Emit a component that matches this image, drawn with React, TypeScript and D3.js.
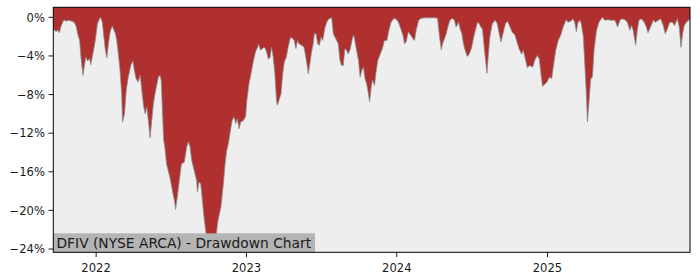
import React from "react";
import * as d3 from "d3";

const dates: string[] = [
  "2021-09-19","2021-09-26","2021-09-29","2021-10-04","2021-10-07","2021-10-12","2021-10-15","2021-10-20","2021-10-26","2021-11-03",
  "2021-11-09","2021-11-14","2021-11-17","2021-11-22","2021-11-25","2021-11-30","2021-12-03","2021-12-07","2021-12-11","2021-12-16",
  "2021-12-19","2021-12-24","2021-12-30",
  "2022-01-04","2022-01-09","2022-01-12","2022-01-16","2022-01-19","2022-01-23","2022-01-27","2022-01-31","2022-02-04","2022-02-09",
  "2022-02-12","2022-02-17","2022-02-20","2022-02-24","2022-02-28","2022-03-04","2022-03-06","2022-03-11","2022-03-15","2022-03-20",
  "2022-03-26","2022-03-31","2022-04-03","2022-04-08","2022-04-13","2022-04-18","2022-04-21","2022-04-26","2022-04-30","2022-05-04",
  "2022-05-08","2022-05-12","2022-05-16","2022-05-20","2022-05-24","2022-05-28","2022-06-01","2022-06-05","2022-06-08","2022-06-11",
  "2022-06-14","2022-06-17","2022-06-21","2022-06-29","2022-07-05","2022-07-10","2022-07-13","2022-07-17","2022-07-21","2022-07-27",
  "2022-08-03","2022-08-09","2022-08-13","2022-08-17","2022-08-21","2022-08-27","2022-09-02","2022-09-04","2022-09-08","2022-09-12",
  "2022-09-16","2022-09-20","2022-09-25","2022-09-28","2022-10-02","2022-10-06","2022-10-10","2022-10-15","2022-10-20","2022-10-24",
  "2022-10-31","2022-11-06","2022-11-10","2022-11-14","2022-11-18","2022-11-22","2022-11-27","2022-12-02","2022-12-06","2022-12-10",
  "2022-12-14","2022-12-18","2022-12-24","2022-12-30",
  "2023-01-02","2023-01-07","2023-01-12","2023-01-15","2023-01-20","2023-01-23","2023-01-28","2023-01-31","2023-02-04","2023-02-08",
  "2023-02-13","2023-02-16","2023-02-19","2023-02-23","2023-02-27","2023-03-03","2023-03-07","2023-03-11","2023-03-15","2023-03-17",
  "2023-03-22","2023-03-26","2023-03-30","2023-04-03","2023-04-08","2023-04-12","2023-04-18","2023-04-23","2023-04-27","2023-05-01",
  "2023-05-05","2023-05-09","2023-05-15","2023-05-21","2023-05-25","2023-05-29","2023-05-31","2023-06-04","2023-06-08","2023-06-12",
  "2023-06-15","2023-06-19","2023-06-23","2023-06-27","2023-07-01","2023-07-05","2023-07-11","2023-07-15","2023-07-20","2023-07-27",
  "2023-07-31","2023-08-04","2023-08-08","2023-08-12","2023-08-16","2023-08-20","2023-08-24","2023-08-28","2023-09-01","2023-09-05",
  "2023-09-10","2023-09-15","2023-09-19","2023-09-24","2023-09-30","2023-10-04","2023-10-08","2023-10-12","2023-10-16","2023-10-20",
  "2023-10-23","2023-10-27","2023-10-31","2023-11-03","2023-11-08","2023-11-11","2023-11-16","2023-11-22","2023-11-27","2023-12-02",
  "2023-12-08","2023-12-12","2023-12-18","2023-12-24","2023-12-30",
  "2024-01-05","2024-01-11","2024-01-16","2024-01-20","2024-01-24","2024-01-29","2024-02-04","2024-02-09","2024-02-13","2024-02-17",
  "2024-02-23","2024-02-29","2024-03-10","2024-03-22","2024-04-03","2024-04-09","2024-04-13","2024-04-18","2024-04-21","2024-04-26",
  "2024-04-30","2024-05-04","2024-05-09","2024-05-15","2024-05-20","2024-05-24","2024-05-30","2024-06-03","2024-06-07","2024-06-11",
  "2024-06-15","2024-06-20","2024-06-25","2024-07-01","2024-07-05","2024-07-09","2024-07-15","2024-07-19","2024-07-23","2024-07-27",
  "2024-08-01","2024-08-05","2024-08-07","2024-08-10","2024-08-14","2024-08-20","2024-08-27","2024-09-01","2024-09-06","2024-09-10",
  "2024-09-16","2024-09-21","2024-09-26","2024-10-02","2024-10-07","2024-10-14","2024-10-19","2024-10-24","2024-10-30","2024-11-03",
  "2024-11-07","2024-11-13","2024-11-19","2024-11-26","2024-12-01","2024-12-07","2024-12-12","2024-12-16","2024-12-20","2024-12-26",
  "2024-12-31",
  "2025-01-05","2025-01-11","2025-01-15","2025-01-21","2025-01-27","2025-02-02","2025-02-08","2025-02-15","2025-02-20","2025-02-26",
  "2025-03-04","2025-03-08","2025-03-12","2025-03-16","2025-03-21","2025-03-24","2025-03-29","2025-04-02","2025-04-06","2025-04-08",
  "2025-04-12","2025-04-16","2025-04-20","2025-04-24","2025-04-30","2025-05-06","2025-05-14","2025-05-20","2025-05-28","2025-06-05",
  "2025-06-14","2025-06-20","2025-06-26","2025-07-01","2025-07-08","2025-07-14","2025-07-20","2025-07-24","2025-07-28","2025-08-03",
  "2025-08-07","2025-08-11","2025-08-17","2025-08-24","2025-08-29","2025-09-02","2025-09-08","2025-09-15","2025-09-20","2025-09-27",
  "2025-10-03","2025-10-09","2025-10-14","2025-10-19","2025-10-25","2025-10-31","2025-11-06","2025-11-12","2025-11-17","2025-11-21",
  "2025-11-25","2025-11-29","2025-12-04","2025-12-10","2025-12-13",
];

const drawdown: number[] = [
  -1.2,-1.5,-1.3,-1.6,-1.0,-0.5,-0.25,-0.4,-0.3,-0.4,
  -0.5,-1.0,-1.7,-2.4,-4.1,-6.0,-5.15,-4.1,-4.5,-4.3,
  -4.9,-3.8,-2.4,
  -0.7,-0.15,0,-0.5,-1.7,-3.25,-4.2,-2.7,-1.5,-0.9,
  -1.2,-1.7,-2.4,-3.8,-5.5,-7.9,-10.85,-10.0,-7.6,-6.2,
  -5.0,-4.5,-5.3,-6.35,-6.7,-6.0,-7.2,-9.1,-10.0,-9.3,
  -10.7,-12.5,-10.7,-8.95,-7.9,-7.05,-6.2,-6.0,-6.5,-9.6,
  -12.7,-13.5,-15.2,-16.55,-17.9,-18.95,-19.9,-18.6,-17.25,-15.2,
  -15.0,-13.4,-12.9,-13.4,-14.8,-15.85,-16.9,-18.1,-17.05,-17.25,
  -18.95,-20.7,-22.4,-24.0,-23.1,-22.8,-23.1,-23.6,-22.4,-21.0,
  -19.65,-17.25,-15.2,-13.8,-13.1,-12.05,-10.7,-10.3,-11.0,-10.5,
  -11.55,-10.85,-10.7,-10.3,
  -8.6,-6.9,-5.85,-5.15,-4.1,-3.6,-3.1,-2.8,-3.4,-3.25,
  -3.1,-3.25,-3.6,-4.3,-4.2,-3.1,-4.1,-5.85,-8.6,-9.1,
  -8.45,-7.9,-5.85,-4.6,-4.1,-3.1,-2.05,-2.2,-2.4,-3.25,
  -2.4,-2.75,-2.9,-3.1,-4.1,-5.15,-5.85,-4.8,-3.6,-2.75,
  -1.7,-1.7,-2.75,-2.9,-2.05,-2.4,-1.0,-0.5,-0.15,-0.05,
  -1.7,-2.05,-2.4,-2.75,-4.45,-5.0,-5.0,-3.25,-3.4,-3.8,
  -3.3,-2.2,-1.85,-3.1,-4.45,-6.2,-5.5,-5.15,-6.35,-6.9,
  -7.6,-8.75,-7.2,-6.5,-7.05,-5.85,-4.45,-3.8,-3.25,-2.4,
  -2.4,-1.5,-0.5,-0.15,-0.15,
  -0.5,-1.2,-1.85,-2.75,-2.5,-1.5,-1.85,-2.2,-2.4,-1.35,
  -0.3,-0.1,-0.05,-0.05,-0.05,-0.1,-1.7,-3.35,-2.75,-2.2,
  -1.7,-1.0,-0.3,-0.1,-0.3,-1.0,-0.5,-1.2,-1.7,-2.75,
  -3.4,-4.05,-3.8,-3.1,-2.2,-1.5,-0.5,-0.65,-1.0,-1.2,
  -3.4,-5.0,-5.8,-4.1,-2.0,-0.65,-0.3,-0.65,-1.7,-2.55,
  -1.5,-0.65,-0.4,-1.0,-1.5,-1.85,-2.55,-3.25,-3.8,-3.4,
  -4.1,-5.2,-5.0,-5.15,-4.45,-3.95,-4.3,-5.85,-7.15,-6.9,
  -6.7,
  -6.2,-6.35,-5.15,-3.4,-2.4,-1.85,-1.0,-0.25,-0.5,-0.4,
  -0.15,-0.5,-1.5,-0.5,-0.3,-0.65,-2.0,-5.15,-8.6,-10.85,
  -8.6,-6.35,-6.2,-3.4,-1.35,-0.5,0,-0.3,-0.25,-0.3,
  -0.3,-1.0,-0.3,-0.15,-0.25,-0.5,-1.35,-0.85,-1.35,-2.9,
  -1.35,-0.3,-0.15,-0.5,-1.0,-1.6,-1.0,-0.3,-0.5,-0.3,
  -0.15,-0.85,-1.7,-1.2,-0.5,-0.5,-0.85,-0.15,-1.0,-3.1,
  -1.7,-0.85,-0.5,-0.3,-0.1,
];

const yTicks: number[] = [0, -4, -8, -12, -16, -20, -24];
const yTickLabels: string[] = ["0%", "\u22124%", "\u22128%", "\u221212%", "\u221216%", "\u221220%", "\u221224%"];
const xTickYears: number[] = [2022, 2023, 2024, 2025];
const xTickLabels: string[] = ["2022", "2023", "2024", "2025"];
const titleText = "DFIV (NYSE ARCA) - Drawdown Chart";

const W = 700;
const H = 280;
const L = 53.3;
const R = 690;
const T = 7.3;
const B = 252.3;
const FONT = "'DejaVu Sans', sans-serif";

export default function App() {
  const parse = d3.utcParse("%Y-%m-%d");
  const pts = dates.map((d, i) => ({ date: parse(d) as Date, v: drawdown[i] }));
  const x = d3
    .scaleUtc()
    .domain(d3.extent(pts, (p) => p.date) as [Date, Date])
    .range([L, R]);
  const y = d3.scaleLinear().domain([-24.34, 1.04]).range([B, T]);

  const area = d3
    .area<{ date: Date; v: number }>()
    .x((p) => x(p.date))
    .y0(T)
    .y1((p) => y(p.v))
    .curve(d3.curveLinear);
  const line = d3
    .line<{ date: Date; v: number }>()
    .x((p) => x(p.date))
    .y((p) => y(p.v))
    .curve(d3.curveLinear);

  return (
    <div style={{ position: "absolute", left: 0, top: 0 }}>
      <svg width={W} height={H} style={{ display: "block", background: "#fff" }}>
        <rect x={L} y={T} width={R - L} height={B - T} fill="#eeeeee" />
        <path d={area(pts) || ""} fill="#b03030" />
        <path d={line(pts) || ""} fill="none" stroke="#8a8a8a" strokeWidth={0.9} strokeOpacity={0.85} />
        {/* label box */}
        <rect x={L} y={233.3} width={315 - L} height={B - 233.3} fill="#b4b4b4" />
        <text x={56.5} y={247.6} fontFamily={FONT} fontSize={13.8} fill="#1a1a1a">
          {titleText}
        </text>
        {/* frame */}
        <rect x={L} y={T} width={R - L} height={B - T} fill="none" stroke="#000" strokeWidth={1} />
        {/* y ticks */}
        {yTicks.map((t, i) => (
          <g key={"y" + i}>
            <line x1={L - 4.8} x2={L} y1={y(t)} y2={y(t)} stroke="#000" strokeWidth={0.9} />
            <text
              x={L - 8.3}
              y={y(t)}
              dy="0.36em"
              textAnchor="end"
              fontFamily={FONT}
              fontSize={11.6}
              fill="#1a1a1a"
            >
              {yTickLabels[i]}
            </text>
          </g>
        ))}
        {/* x ticks */}
        {xTickYears.map((yr, i) => {
          const px = x(new Date(Date.UTC(yr, 0, 1)));
          return (
            <g key={"x" + i}>
              <line x1={px} x2={px} y1={B} y2={B + 4.8} stroke="#000" strokeWidth={0.9} />
              <text
                x={px}
                y={271.5}
                textAnchor="middle"
                fontFamily={FONT}
                fontSize={11.6}
                fill="#1a1a1a"
              >
                {xTickLabels[i]}
              </text>
            </g>
          );
        })}
      </svg>
    </div>
  );
}
